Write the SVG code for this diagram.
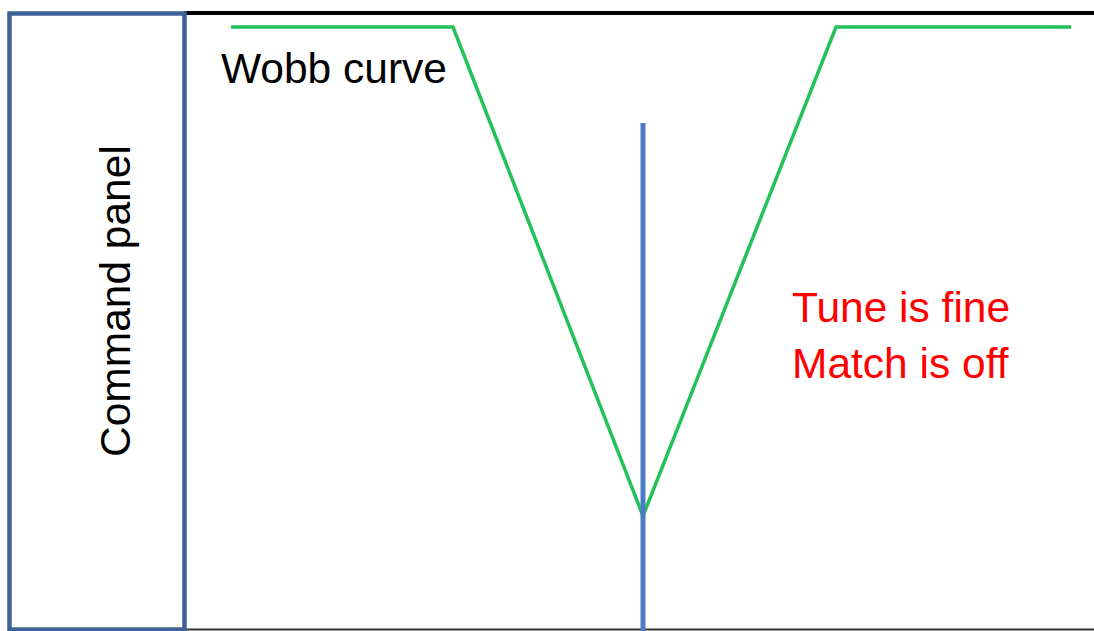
<svg xmlns="http://www.w3.org/2000/svg" width="1094" height="631" viewBox="0 0 1094 631">
<style>
.lbl{font-family:"Liberation Sans",Arial,sans-serif;font-size:42.5px}
.red{fill:#ff0000}
</style>
<rect width="1094" height="631" fill="#ffffff"/>
<g id="frame">
<line x1="184" y1="13" x2="1094" y2="13" stroke="#000000" stroke-width="4"/>
<line x1="184" y1="629.5" x2="1094" y2="629.5" stroke="#333333" stroke-width="2"/>
</g>
<g id="command-panel">
<rect x="9.5" y="13.5" width="175" height="616" fill="none" stroke="#3d6396" stroke-width="4.5"/>
<text class="lbl" transform="translate(130 457) rotate(-90)" fill="#000">Command panel</text>
</g>
<g id="connectors">
<polyline points="231,27 453,27 643,516 836,27 1071,27" fill="none" stroke="#22c15a" stroke-width="3.5" stroke-linejoin="miter"/>
<line x1="643" y1="123" x2="643" y2="631" stroke="#4a7cc4" stroke-width="5"/>
</g>
<g id="wobb-label">
<text class="lbl" x="221" y="83" fill="#000">Wobb curve</text>
</g>
<g id="status-label">
<text class="lbl red" x="792" y="322">Tune is fine</text>
<text class="lbl red" x="792" y="378">Match is off</text>
</g>
</svg>
